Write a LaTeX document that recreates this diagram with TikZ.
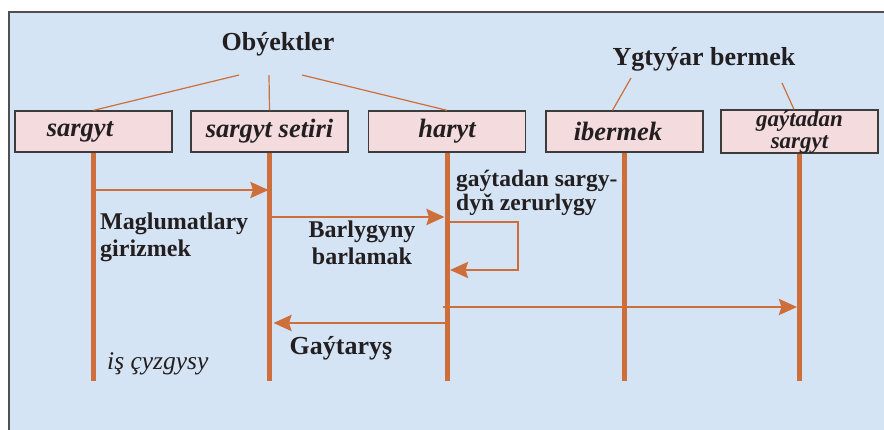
\documentclass[tikz,border=0pt]{standalone}
\usepackage{fontspec}
\setmainfont{Liberation Serif}
\usetikzlibrary{arrows.meta,calc}
\definecolor{bgblue}{RGB}{213,228,244}
\definecolor{boxpink}{RGB}{243,219,222}
\definecolor{lineorange}{RGB}{206,110,58}
\definecolor{frameGray}{RGB}{80,80,80}
\definecolor{boxGray}{RGB}{60,60,60}
\definecolor{txt}{RGB}{35,31,32}
\tikzset{
  objbox/.style={draw=boxGray, line width=1.3pt, fill=boxpink, minimum width=157pt, minimum height=41pt, inner sep=0pt, text=txt, font=\fontsize{26.5}{26.5}\selectfont\bfseries\itshape},
  title/.style={text=txt, font=\fontsize{26}{26}\selectfont\bfseries, inner sep=0pt},
  msglabel/.style={text=txt, font=\fontsize{24}{27}\selectfont\bfseries, inner sep=0pt, align=left},
  objline/.style={draw=lineorange, line width=1.2pt},
  lifeline/.style={draw=lineorange, line width=5pt},
  msg/.style={draw=lineorange, line width=2.8pt, -{Stealth[length=18pt,width=16pt,inset=2.5pt]}},
}
\begin{document}
\begin{tikzpicture}[x=1pt,y=-1pt]
\useasboundingbox (0,0) rectangle (884,429);
\fill[bgblue] (9,12) rectangle (895,440);
\draw[frameGray, line width=2pt] (9,440) -- (9,12) -- (895,12);

% object boxes
\node[objbox] (b1) at (93.5,131.5) {sargyt\hspace*{27pt}};
\node[objbox] (b2) at (269.5,131.5) {sargyt setiri};
\node[objbox] (b3) at (447,131.5) {haryt};
\node[objbox] (b4) at (624.5,131.5) {ibermek\hspace*{13pt}};
\node[objbox, align=center, font=\fontsize{23}{22}\selectfont\bfseries\itshape] (b5) at (799.5,131.5) {gaýtadan\\sargyt};

% titles
\node[title] (obj) at (278,44) {Obýektler};
\node[title] (ygt) at (704,59) {Ygtyýar bermek};
\coordinate (o1) at (239,75);
\coordinate (o2) at (269,75);
\coordinate (o3) at (302,75);
\coordinate (y1) at (631,78);
\coordinate (y2) at (782,83);
\draw[objline] (o1) -- (b1.north);
\draw[objline] (o2) -- (b2.north);
\draw[objline] (o3) -- (b3.north);
\draw[objline] (y1) -- ($(b4.north)+(-12,0)$);
\draw[objline] (y2) -- ($(b5.north)+(-5.5,0)$);

% lifelines
\foreach \i in {1,...,5} {
  \coordinate (e\i) at (b\i.south |- 0,381);
  \draw[lifeline] (b\i.south) -- (e\i);
}

% messages
\coordinate (m1a) at (92,190);
\coordinate (m1b) at (268.5,190);
\draw[msg] (m1a) -- (m1b);
\coordinate (m2a) at (271,217);
\coordinate (m2b) at (444.5,217);
\draw[msg] (m2a) -- (m2b);
\coordinate (m3a) at (449,222);
\coordinate (m3c) at (518,270);
\coordinate (m3b) at (450,270);
\draw[msg, line width=2.5pt] (m3a) -| (m3c) -- (m3b);
\coordinate (m4a) at (443,307);
\coordinate (m4b) at (797,307);
\draw[msg] (m4a) -- (m4b);
\coordinate (m5a) at (450,323);
\coordinate (m5b) at (273.5,323);
\draw[msg] (m5a) -- (m5b);

% labels
\node[msglabel, anchor=north west] (l1) at (100,213) {Maglumatlary\\girizmek};
\node[msglabel, anchor=north, align=center] (l2) at (362,221) {Barlygyny\\barlamak};
\node[msglabel, anchor=north west, font=\fontsize{23.5}{24}\selectfont\bfseries] (l3) at (456,170) {gaýtadan sargy-\\dyň zerurlygy};
\node[text=txt, font=\fontsize{26}{26}\selectfont\bfseries, inner sep=0pt] (l4) at (341,348) {Gaýtaryş};
\node[text=txt, font=\fontsize{25.5}{25.5}\selectfont\itshape, inner sep=0pt, anchor=west] (l5) at (107,364) {iş çyzgysy};
\end{tikzpicture}
\end{document}
